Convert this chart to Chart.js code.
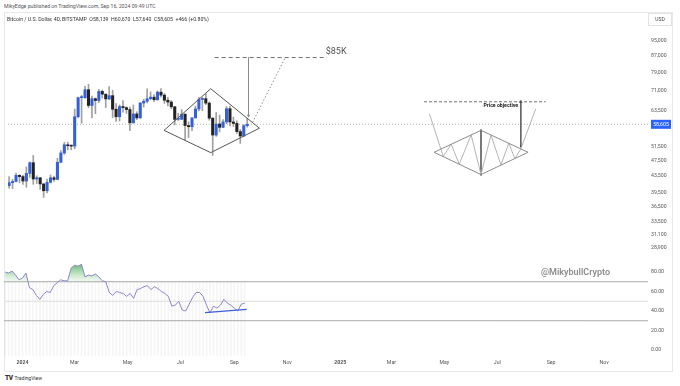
<!DOCTYPE html>
<html><head><meta charset="utf-8">
<script src="https://cdn.jsdelivr.net/npm/chart.js@4.4.1/dist/chart.umd.min.js"></script>
<style>
html,body{margin:0;padding:0;background:#fff;width:680px;height:386px;overflow:hidden;font-family:Roboto,'Noto Sans',sans-serif;}
.t{position:absolute;white-space:nowrap;line-height:6px;}
#box{position:absolute;left:4px;top:12px;width:667px;height:358px;border:1px solid #e6e8ee;box-sizing:content-box;}
#cp{position:absolute;left:4px;top:12px;}
#cr{position:absolute;left:4px;top:262px;}
#hdr1{left:4px;top:3px;font-size:5.2px;color:#555;}
#hdr2{left:7px;top:15.5px;font-size:5.2px;color:#333;}
#usd{position:absolute;left:648px;top:13px;width:22px;height:11px;border:1px solid #e3e3e3;font-size:5px;line-height:11px;text-align:center;color:#444;}
#wm{position:absolute;left:541px;top:266px;font-size:9px;font-weight:600;color:#8d8d8d;line-height:12px;white-space:nowrap;}
#tv{left:5px;top:375px;font-size:5px;color:#333;}
#tv b{font-size:6.5px;font-weight:900;letter-spacing:-0.5px;margin-right:2px;}
</style></head>
<body>
<div id="box"></div>
<div class="t" id="hdr1">MikyEdge published on TradingView.com, Sep 16, 2024 09:49 UTC</div>
<canvas id="cp" width="668" height="250"></canvas>
<canvas id="cr" width="668" height="109"></canvas>
<div class="t" id="hdr2">Bitcoin / U.S. Dollar, 4D, BITSTAMP&nbsp; O58,139 &nbsp;H60,670 &nbsp;L57,640 &nbsp;C58,605 &nbsp;+466 (+0.80%)</div>
<div id="usd">USD</div>
<div id="wm">@MikybullCrypto</div>
<div class="t" id="tv"><b>TV</b>TradingView</div>
<script>
// ---- data (4D candles, days counted from 2024-01-01) ----
const firstCandleDay = -20;   // Dec 12, 2023
const candleStep = 4;
const opens  = [41200,41900,42200,43700,43400,42300,44200,47000,42800,43100,41600,40000,42000,43100,42700,47100,49700,52100,51800,51700,61200,68300,68300,71500,65300,67900,67200,70800,69700,67800,69100,63900,61200,64900,64500,63800,59100,62200,60800,66200,66900,67900,68500,67500,70500,69300,67300,66600,64800,60300,60300,62100,58200,57800,60800,64000,67600,67900,66200,60700,55100,58700,57600,59400,64100,59400,58900,56200,54800,58139];
const highs  = [43400,42700,44300,43900,43800,45900,47200,49000,43600,43200,41700,42800,43800,43500,48200,50400,52800,52900,52000,64000,68500,69200,72900,73800,68900,68200,71600,71400,69700,72800,71300,66000,65500,67200,64800,64700,65500,63000,66500,67700,71900,70600,69500,71000,72000,70000,68400,67200,65000,62400,63800,62300,59500,60900,65100,68400,68300,69900,66700,60900,62700,61800,60200,64900,65000,61100,59800,56900,58500,60670];
const lows   = [40600,40500,42100,41900,41500,40800,43200,41500,41700,40300,38500,39500,41800,42200,42600,47000,49300,50600,50600,50900,60800,59000,68000,64500,60800,62300,66400,68100,64500,67500,60900,59600,59700,62800,62400,56500,59000,60200,60600,64700,66300,67500,66700,67200,68500,66100,65100,64100,58400,59900,60300,53500,54300,56500,60700,63300,63400,65600,60000,49000,54700,56100,57500,58800,58100,57900,55600,52500,54600,57640];
const closes = [41900,42200,43700,43400,42300,44200,47000,42800,43100,41600,40000,42000,43100,42700,47100,49700,52100,51800,51700,61200,68300,68300,71500,65300,67900,67200,70800,69700,67800,69100,63900,61200,64900,64500,63800,59100,62200,60800,66200,66900,67900,68500,67500,70500,69300,67300,66600,64800,60300,60300,62100,58200,57800,60800,64000,67600,67900,66200,60700,55100,58700,57600,59400,64100,59400,58900,56200,54800,58139,58605];
const rsiValues = [80,79,81,77,72,74,79,64,62,56,52,57,60,59,66,69,72,71,71,84,87,86,88,75,77,76,78,75,71,70,59,56,60,59,58,55,58,53,62,63,65,66,62,65,63,60,58,55,45,46,50,41,40,47,54,59,59,55,46,38,45,43,46,52,48,46,43,40,47,48];
const lastPrice = 58605;

// axes
const xRange = [-21.3, 720.6];
const priceRange = [27180, 109200];
const rsiRange = [-6.2, 90.3];
const timeTickDays   = [0,60,121,182,244,305,366,425,486,547,609,670];
const timeTickLabels = ['2024','Mar','May','Jul','Sep','Nov','2025','Mar','May','Jul','Sep','Nov'];
const priceTicks = [95000,87000,79000,71000,63500,51500,47500,43500,39500,36500,33500,31100,28900];
const rsiTicks = [80,60,40,20,0];
const rsiLevels = [70,50,30];

// drawings: [day, price]
const leftDiamond = [[159.6,56600],[213.7,71900],[270.2,57300],[213.7,49800],[159.6,56600]];
const target85 = [[218.3,86000],[348.5,86000]];
const targetDrop = [[257.5,86000],[257.5,61600]];
const projection = [[262.1,59200],[300.1,86000]];
const label85 = {text:'$85K', day:347, price:88900};
const schematicObjective = [[461,66700],[602,66700]];
const schematicDiamond = [[472.6,49900],[527,56600],[581.6,49900],[527,43900],[472.6,49900]];
const schematicHeight = [[527,56600],[527,43900]];
const schematicSwings = [[467.2,62300],[483.3,48700],[492.5,52300],[501.7,46600],[515.6,55100],[527,43900],[538.6,55100],[550.1,46400],[559.3,52600],[566.2,48100],[573.2,50900],[590.4,64000]];
const schematicArrow = [[573.2,66700],[573.2,51600]];
const objectiveLabel = {text:'Price objective', day:550, price:65100};
const rsiSupport = [[210.3,38.3],[258.3,41.7]];

// ---- build ----
const FONT = 'Roboto, "Noto Sans", sans-serif';
const candleDays = opens.map((_, i) => firstCandleDay + i * candleStep);
const pts = arr => arr.map(([x, y]) => ({x, y}));
const UP = '#3560d6', DOWN = '#222222', WICK = '#a0a0a0';

function lineDs(data, color, extra) {
  return Object.assign({type:'line', data:pts(data), borderColor:color, borderWidth:1, pointRadius:0, fill:false, tension:0, order:0}, extra||{});
}
function noPad(s) { s.paddingTop = 0; s.paddingBottom = 0; s.paddingLeft = 0; s.paddingRight = 0; }

const pricePlugin = {
  id:'priceTexts',
  afterDraw(chart) {
    const {ctx, scales:{x, y}, chartArea} = chart;
    ctx.save();
    ctx.textBaseline = 'middle';
    ctx.textAlign = 'left';
    ctx.fillStyle = '#555';
    ctx.font = '9px ' + FONT;
    ctx.fillText(label85.text, x.getPixelForValue(label85.day), y.getPixelForValue(label85.price));
    ctx.fillStyle = '#222';
    ctx.textAlign = 'center';
    ctx.font = 'bold 5.2px ' + FONT;
    ctx.fillText(objectiveLabel.text, x.getPixelForValue(objectiveLabel.day), y.getPixelForValue(objectiveLabel.price));
    const py = y.getPixelForValue(lastPrice);
    ctx.fillStyle = '#2962ff';
    ctx.fillRect(chartArea.right + 3, py - 4.5, 20, 9);
    ctx.fillStyle = '#fff';
    ctx.font = '5.2px ' + FONT;
    ctx.fillText(lastPrice.toLocaleString('en-US'), chartArea.right + 13, py + 0.3);
    ctx.restore();
  }
};

const yAxisCommon = {
  position:'right',
  grid:{display:false, drawTicks:false},
  border:{display:false},
  afterFit: s => { s.width = 24; noPad(s); }
};

new Chart(document.getElementById('cp'), {
  type:'bar',
  data:{datasets:[
    {type:'bar', data:candleDays.map((d,i)=>({x:d, y:[opens[i], closes[i]]})),
      backgroundColor: c => closes[c.dataIndex] >= opens[c.dataIndex] ? UP : DOWN,
      barThickness:2.4, minBarLength:1, grouped:false, order:2},
    {type:'bar', data:candleDays.map((d,i)=>({x:d, y:[lows[i], highs[i]]})),
      backgroundColor:WICK, barThickness:1, grouped:false, order:3},
    lineDs([[xRange[0], lastPrice],[xRange[1], lastPrice]], '#b5b5b5', {borderDash:[1,2], order:5}),
    lineDs(leftDiamond, '#555'),
    lineDs(target85, '#6f6f6f', {borderDash:[4,3]}),
    lineDs(targetDrop, '#8a8a8a', {pointRadius:[0,2], pointStyle:'triangle', rotation:180, pointBackgroundColor:'#8a8a8a', pointBorderWidth:0}),
    lineDs(projection, '#8a8a8a', {borderDash:[1.5,2]}),
    lineDs(schematicObjective, '#6f6f6f', {borderDash:[3,2]}),
    lineDs(schematicDiamond, '#8c8c8c'),
    lineDs(schematicSwings, '#b4b4b4'),
    lineDs(schematicHeight, '#555', {borderWidth:0.8, pointRadius:1.2, pointStyle:'rect', pointBackgroundColor:'#333', pointBorderWidth:0}),
    lineDs(schematicArrow, '#555', {borderWidth:0.8, pointRadius:[2,1.2], pointStyle:['triangle','rect'], pointBackgroundColor:'#333', pointBorderWidth:0})
  ]},
  options:{
    responsive:false, animation:false, devicePixelRatio:1,
    layout:{padding:0},
    plugins:{legend:{display:false}, tooltip:{enabled:false}},
    scales:{
      x:{type:'linear', min:xRange[0], max:xRange[1], display:false, offset:false, grid:{display:false}},
      y:Object.assign({}, yAxisCommon, {
        type:'logarithmic', min:priceRange[0], max:priceRange[1],
        afterBuildTicks: s => { s.ticks = priceTicks.map(v => ({value:v})); },
        ticks:{autoSkip:false, crossAlign:'near', padding:3, color:'#555', font:{size:5.2, family:FONT},
          callback: v => Number(v).toLocaleString('en-US')}
      })
    }
  },
  plugins:[pricePlugin]
});

new Chart(document.getElementById('cr'), {
  type:'bar',
  data:{datasets:[
    {type:'bar', data:candleDays.map(d=>({x:d, y:[rsiRange[0], 70]})),
      backgroundColor:'rgba(185,185,185,0.14)', barThickness:1, grouped:false, order:10},
    lineDs([[xRange[0], rsiLevels[0]],[xRange[1], rsiLevels[0]]], '#a8a8a8', {order:6}),
    lineDs([[xRange[0], rsiLevels[1]],[xRange[1], rsiLevels[1]]], '#dddddd', {order:6}),
    lineDs([[xRange[0], rsiLevels[2]],[xRange[1], rsiLevels[2]]], '#a8a8a8', {order:6}),
    {type:'line', data:candleDays.map((d,i)=>({x:d, y:rsiValues[i]})), borderColor:'#8e86c9', borderWidth:1,
      pointRadius:0, tension:0, order:1,
      backgroundColor: c => {
        const ch = c.chart; const s = ch.scales && ch.scales.y;
        if (!ch.chartArea || !s) return 'rgba(76,175,80,0.4)';
        const g = ch.ctx.createLinearGradient(0, s.getPixelForValue(88), 0, s.getPixelForValue(70));
        g.addColorStop(0, 'rgba(56,160,70,0.75)');
        g.addColorStop(1, 'rgba(120,200,120,0.08)');
        return g;
      },
      fill:{target:{value:70}, below:'rgba(0,0,0,0)'}},
    lineDs(rsiSupport, '#3f5fd6', {borderWidth:1.3, order:0})
  ]},
  options:{
    responsive:false, animation:false, devicePixelRatio:1,
    layout:{padding:0},
    plugins:{legend:{display:false}, tooltip:{enabled:false}},
    scales:{
      x:{type:'linear', min:xRange[0], max:xRange[1], offset:false,
        grid:{display:false, drawTicks:false}, border:{display:false},
        afterFit: s => { s.height = 15; noPad(s); },
        afterBuildTicks: s => { s.ticks = timeTickDays.map(v => ({value:v})); },
        ticks:{autoSkip:false, maxRotation:0, padding:4, color:'#555',
          font: c => ({size:5.2, family:FONT, weight: /^\d/.test(timeTickLabels[c.index] || '') ? '700' : '400'}),
          callback: (v, i) => timeTickLabels[i]}
      },
      y:Object.assign({}, yAxisCommon, {
        type:'linear', min:rsiRange[0], max:rsiRange[1],
        afterBuildTicks: s => { s.ticks = rsiTicks.map(v => ({value:v})); },
        ticks:{autoSkip:false, crossAlign:'near', padding:3, color:'#555', font:{size:5.2, family:FONT},
          callback: v => Number(v).toFixed(2)}
      })
    }
  }
});
</script>
</body></html>
